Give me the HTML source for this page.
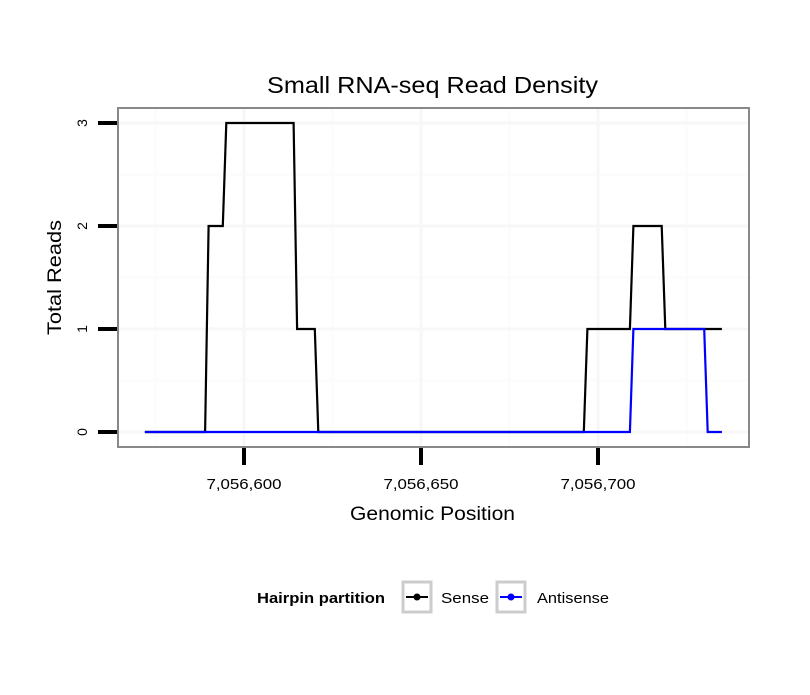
<!DOCTYPE html>
<html><head><meta charset="utf-8"><style>
body{margin:0;background:#fff;}
svg text{font-family:"Liberation Sans",sans-serif;}
</style></head><body>
<svg id="chart" width="810" height="690" viewBox="0 0 810 690">
<rect x="0" y="0" width="810" height="690" fill="#fff"/>
<text x="267" y="93" font-size="23" textLength="331" lengthAdjust="spacingAndGlyphs">Small RNA-seq Read Density</text>
<g id="grid"></g>
<g id="lines"></g>
<rect x="118" y="108" width="631" height="339" fill="none" stroke="#888" stroke-width="2"/>
<g id="axes"></g>
<text x="350" y="520" font-size="19" textLength="165" lengthAdjust="spacingAndGlyphs">Genomic Position</text>
<text transform="translate(61,335) rotate(-90)" font-size="19" textLength="115" lengthAdjust="spacingAndGlyphs">Total Reads</text>
<g>
<text x="257" y="603" font-size="15" font-weight="bold" textLength="128" lengthAdjust="spacingAndGlyphs">Hairpin partition</text>
<g>
<rect x="403" y="582" width="28" height="30" fill="#fff" stroke="#ccc" stroke-width="3"/>
<line x1="406" y1="597" x2="428" y2="597" stroke="#000" stroke-width="2"/>
<circle cx="417" cy="597" r="3.5" fill="#000"/>
<text x="441" y="603" font-size="15" textLength="48" lengthAdjust="spacingAndGlyphs">Sense</text>
</g>
<g>
<rect x="497" y="582" width="28" height="30" fill="#fff" stroke="#ccc" stroke-width="3"/>
<line x1="500" y1="597" x2="522" y2="597" stroke="#00f" stroke-width="2"/>
<circle cx="511" cy="597" r="3.5" fill="#00f"/>
<text x="537" y="603" font-size="15" textLength="72" lengthAdjust="spacingAndGlyphs">Antisense</text>
</g>
</g>
</svg>
<script>
const senseX=[7056572,7056589,7056590,7056594,7056595,7056614,7056615,7056620,7056621,7056696,7056697,7056709,7056710,7056718,7056719,7056735];
const senseY=[0,0,2,2,3,3,1,1,0,0,1,1,2,2,1,1];
const antiX=[7056572,7056709,7056710,7056730,7056731,7056735];
const antiY=[0,0,1,1,0,0];
const xTicks=[7056600,7056650,7056700];
const xTickLabels=["7,056,600","7,056,650","7,056,700"];
const xMinor=[7056575,7056625,7056675,7056725];
const yTicks=[0,1,2,3];
const yMinor=[0.5,1.5,2.5];
const NS="http://www.w3.org/2000/svg";
function xs(p){return 244+(p-7056600)*3.54;}
function ys(v){return 432-v*103;}
function mk(tag,attrs,parent){const e=document.createElementNS(NS,tag);for(const k in attrs)e.setAttribute(k,attrs[k]);parent.appendChild(e);return e;}
const grid=document.getElementById('grid'),lines=document.getElementById('lines'),axes=document.getElementById('axes');
xMinor.forEach(p=>{const l=mk('line',{x1:xs(p),x2:xs(p),y1:109,y2:446,stroke:'#fbfbfb','stroke-width':2},grid);

});
yMinor.forEach(v=>{const l=mk('line',{x1:119,x2:748,y1:ys(v),y2:ys(v),stroke:'#fbfbfb','stroke-width':2},grid);

});
xTicks.forEach((p,i)=>{const l=mk('line',{x1:xs(p),x2:xs(p),y1:109,y2:446,stroke:'#f7f7f7','stroke-width':3},grid);


const t=mk('line',{x1:xs(p),x2:xs(p),y1:448,y2:465,stroke:'#000','stroke-width':4},axes);


const tx=mk('text',{x:xs(p),y:489,'font-size':15,'text-anchor':'middle',textLength:75,lengthAdjust:'spacingAndGlyphs'},axes);tx.textContent=xTickLabels[i];

});
yTicks.forEach(v=>{const l=mk('line',{x1:119,x2:748,y1:ys(v),y2:ys(v),stroke:'#f7f7f7','stroke-width':3},grid);


const t=mk('line',{x1:98,x2:117,y1:ys(v),y2:ys(v),stroke:'#000','stroke-width':4},axes);


const tx=mk('text',{transform:`translate(87,${ys(v)}) rotate(-90)`,'font-size':14,'text-anchor':'middle'},axes);tx.textContent=String(v);

});
function path(X,Y,color,name){const d=X.map((p,i)=>(i?'L':'M')+xs(p).toFixed(1)+','+ys(Y[i]).toFixed(1)).join(' ');
const e=mk('path',{d:d,fill:'none',stroke:color,'stroke-width':2.2},lines);

}
path(senseX,senseY,'#000','sense-line');
path(antiX,antiY,'#00f','antisense-line');
</script>
</body></html>
